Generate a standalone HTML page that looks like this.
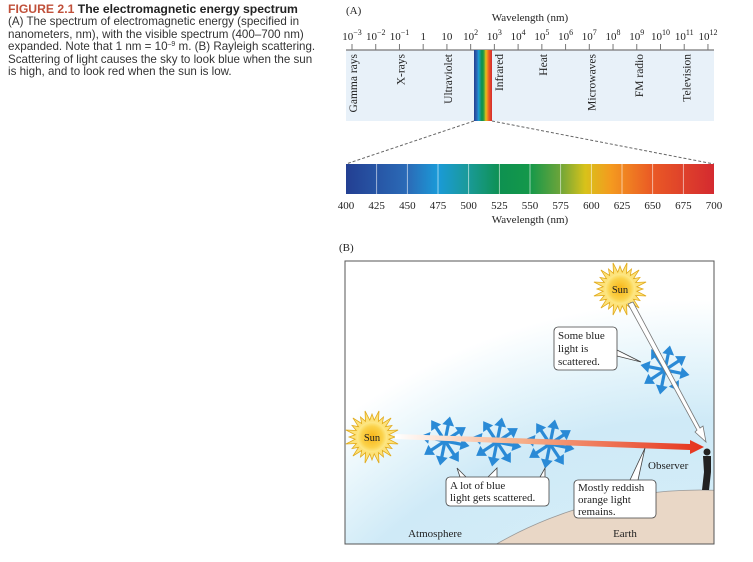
<!DOCTYPE html>
<html><head><meta charset="utf-8">
<style>
html,body{margin:0;background:#fff;width:753px;height:562px;overflow:hidden;position:relative;font-family:"Liberation Sans",sans-serif}
#cap{position:absolute;left:8px;top:3px;width:330px;font-size:11.6px;line-height:12.4px;color:#333;letter-spacing:0px;white-space:nowrap}
#cap b{font-size:12.2px;color:#222}
#cap .fig{color:#c0503a}
svg{position:absolute;left:0;top:0;overflow:hidden}
svg text{font-family:"Liberation Serif",serif;fill:#222}
</style></head><body>
<div id="cap"><b><span class="fig">FIGURE 2.1</span> The electromagnetic energy spectrum</b><br>(A) The spectrum of electromagnetic energy (specified in<br>nanometers, nm), with the visible spectrum (400–700 nm)<br>expanded. Note that 1 nm = 10<span style="font-size:7px;vertical-align:4px;line-height:0">–9</span> m. (B) Rayleigh scattering.<br>Scattering of light causes the sky to look blue when the sun<br>is high, and to look red when the sun is low.</div>
<svg id="s" width="753" height="562" xmlns="http://www.w3.org/2000/svg">
<defs>
<linearGradient id="vis" x1="0" x2="1">
<stop offset="0" stop-color="#233f92"/><stop offset="0.17" stop-color="#2b6cb8"/><stop offset="0.25" stop-color="#1a9ad8"/><stop offset="0.33" stop-color="#1a9a9a"/><stop offset="0.42" stop-color="#0e9150"/><stop offset="0.5" stop-color="#14984a"/><stop offset="0.58" stop-color="#6aa43a"/><stop offset="0.65" stop-color="#d8c21a"/><stop offset="0.72" stop-color="#f49a1f"/><stop offset="0.83" stop-color="#ea5a25"/><stop offset="1" stop-color="#d42a30"/>
</linearGradient>
<radialGradient id="sky" cx="700" cy="900" r="600" gradientUnits="userSpaceOnUse">
<stop offset="0.5" stop-color="#d6eef8"/><stop offset="0.8" stop-color="#cfeaf7"/><stop offset="0.9" stop-color="#e6f5fb"/><stop offset="1" stop-color="#ffffff"/>
</radialGradient>
<radialGradient id="sun"><stop offset="0" stop-color="#f7b416"/><stop offset="0.7" stop-color="#fbd24a"/><stop offset="1" stop-color="#fde98a"/></radialGradient>
<linearGradient id="beam" x1="0" x2="1"><stop offset="0" stop-color="#fff"/><stop offset="0.4" stop-color="#f6b08a"/><stop offset="1" stop-color="#e5321c"/></linearGradient>
<clipPath id="cb"><rect x="345" y="261" width="369" height="283"/></clipPath>
</defs>
<text x="346" y="14" font-size="11">(A)</text>
<text x="530" y="21" font-size="11" text-anchor="middle">Wavelength (nm)</text>
<rect x="346" y="50" width="368" height="71" fill="#e8f1f9"/>
<line x1="346" y1="50" x2="714" y2="50" stroke="#777" stroke-width="1.2"/>
<g id="topTicks"></g>
<rect x="474" y="50" width="18" height="71" fill="url(#vis)"/>
<g id="bands"></g>
<line x1="474" y1="121" x2="346" y2="164" stroke="#666" stroke-dasharray="3,2"/>
<line x1="492" y1="121" x2="714" y2="164" stroke="#666" stroke-dasharray="3,2"/>
<rect x="346" y="164" width="368" height="30" fill="url(#vis)"/>
<g id="visTicks"></g>
<text x="530" y="223" font-size="11" text-anchor="middle">Wavelength (nm)</text>
<text x="339" y="251" font-size="11">(B)</text>
<g clip-path="url(#cb)">
<rect x="345" y="261" width="369" height="283" fill="#fff"/>
<circle cx="700" cy="900" r="600" fill="url(#sky)"/>
<circle cx="700" cy="900" r="410" fill="#e9d7c6" stroke="#999" stroke-width="0.8"/>
</g>
<rect x="345" y="261" width="369" height="283" fill="none" stroke="#555" stroke-width="1"/>
<g id="scene"></g>
<polygon points="395,434 690,444 690,440 704,447 690,454 690,450 395,439" fill="url(#beam)"/>
<polygon points="628,304 633,302 700,428 703,426 706,442 695,432 697,430" fill="#fff" stroke="#777" stroke-width="0.8"/>
<g><circle cx="707" cy="452" r="3.5" fill="#222"/><path d="M703,456 L711,456 L711,472 L709,490 L702,490 L704,472 Z" fill="#222"/></g>
<text x="648" y="469" font-size="11">Observer</text>
<g>
<path d="M617,350 L641,362 L617,356" fill="#fff" stroke="#444" stroke-width="0.8"/>
<rect x="554" y="327" width="63" height="43" rx="4" fill="#fff" stroke="#444" stroke-width="0.8"/>
<text x="558" y="339" font-size="11">Some blue</text><text x="558" y="352" font-size="11">light is</text><text x="558" y="365" font-size="11">scattered.</text></g>
<g>
<path d="M460,477 L457,468 L466,477 M488,477 L497,468 L497,477 M540,477 L545,468 L545,477" fill="#fff" stroke="#444" stroke-width="0.8"/>
<rect x="446" y="477" width="103" height="29" rx="4" fill="#fff" stroke="#444" stroke-width="0.8"/>
<text x="450" y="489" font-size="11">A lot of blue</text><text x="450" y="501" font-size="11">light gets scattered.</text></g>
<g>
<path d="M630,480 L645,448 L638,480" fill="#fff" stroke="#444" stroke-width="0.8"/>
<rect x="574" y="480" width="82" height="38" rx="4" fill="#fff" stroke="#444" stroke-width="0.8"/>
<text x="578" y="491" font-size="11">Mostly reddish</text><text x="578" y="503" font-size="11">orange light</text><text x="578" y="515" font-size="11">remains.</text></g>
<text x="435" y="537" font-size="11" text-anchor="middle">Atmosphere</text>
<text x="625" y="537" font-size="11" text-anchor="middle">Earth</text>
</svg>
<script>
const topExp=["-3","-2","-1","0","1","2","3","4","5","6","7","8","9","10","11","12"];
const bandNames=["Gamma rays","X-rays","Ultraviolet","Infrared","Heat","Microwaves","FM radio","Television"];
const bandPos=[-2.95,-0.95,1.05,3.2,5.05,7.1,9.1,11.1];
const visTicks=[400,425,450,475,500,525,550,575,600,625,650,675,700];
const NS="http://www.w3.org/2000/svg";
const xTop=e=>352+(e+3)*23.73;
const xVis=w=>346+(w-400)/300*368;
function mk(t,a,p){const e=document.createElementNS(NS,t);for(const k in a)e.setAttribute(k,a[k]);p.appendChild(e);return e;}
const tt=document.getElementById('topTicks');
topExp.forEach(s=>{const e=+s,x=xTop(e);
 mk('line',{x1:x,y1:44,x2:x,y2:50,stroke:'#777'},tt);
 const t=mk('text',{x:x,y:40,'font-size':11,'text-anchor':'middle'},tt);
 
 
 if(e===0)t.textContent='1';else if(e===1)t.textContent='10';
 else{t.textContent='10';const sp=mk('tspan',{dy:-5,'font-size':8},t);sp.textContent=s.replace('-','−');}
});
const bd=document.getElementById('bands');
bandNames.forEach((n,i)=>{const x=xTop(bandPos[i])+4;
 const t=mk('text',{x:0,y:0,'font-size':11.5,'text-anchor':'end',transform:`translate(${x},54) rotate(-90)`},bd);
 
 
 t.textContent=n;});
const vt=document.getElementById('visTicks');
visTicks.forEach((w,i)=>{const x=xVis(w);
 if(i>0&&i<visTicks.length-1)mk('line',{x1:x,y1:164,x2:x,y2:194,stroke:'#fff','stroke-width':0.8,opacity:0.7},vt);
 const t=mk('text',{x:x,y:209,'font-size':11,'text-anchor':'middle'},vt);
 
 
 t.textContent=w;});
const sc=document.getElementById('scene');
function sun(cx,cy,lbl){const g=mk('g',{},sc);
 
 
 let p='';for(let i=0;i<48;i++){const a=i*Math.PI/24,r=i%2?17:(i%4?27:23);p+=(cx+r*Math.cos(a))+','+(cy+r*Math.sin(a))+' ';}
 mk('polygon',{points:p,fill:'#fde27a',stroke:'#e0a91a','stroke-width':0.8},g);
 mk('circle',{cx:cx,cy:cy,r:15,fill:'url(#sun)'},g);
 const t=mk('text',{x:cx,y:cy+4,'font-size':10.5,'text-anchor':'middle'},g);t.textContent=lbl;}
sun(372,437,'Sun');sun(620,289,'Sun');
function star(cx,cy){const g=mk('g',{},sc);
 
 
 for(let i=0;i<8;i++){const a=i*Math.PI/4+0.2,ex=cx+25*Math.cos(a),ey=cy+25*Math.sin(a);
  mk('line',{x1:cx,y1:cy,x2:cx+18*Math.cos(a),y2:cy+18*Math.sin(a),stroke:'#2a8ad6','stroke-width':3.2},g);
  const pa=a+Math.PI/2;
  mk('polygon',{points:`${ex},${ey} ${cx+16*Math.cos(a)+6*Math.cos(pa)},${cy+16*Math.sin(a)+6*Math.sin(pa)} ${cx+16*Math.cos(a)-6*Math.cos(pa)},${cy+16*Math.sin(a)-6*Math.sin(pa)}`,fill:'#2a8ad6'},g);}}
[[445,441],[497,442],[550,444],[665,370]].forEach(p=>star(p[0],p[1]));
</script>
</body></html>
